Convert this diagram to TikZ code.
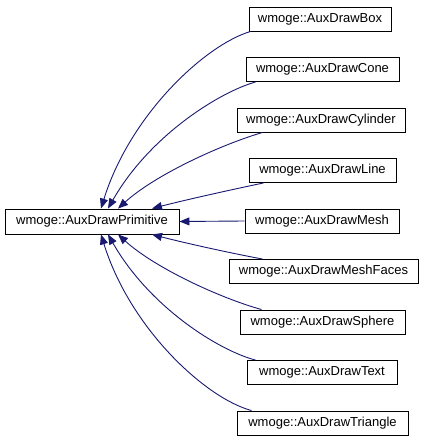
\documentclass[tikz,border=0pt]{standalone}
\usepackage{fontspec}
\setmainfont{Liberation Sans}
\usetikzlibrary{arrows.meta}
\definecolor{edgeblue}{RGB}{25,25,112}
\tikzset{
  cls/.style={draw=black, line width=0.9pt, fill=white, inner sep=0pt,
    minimum height=24pt, font=\fontsize{13}{15}\selectfont, anchor=center},
  inh/.style={draw=edgeblue, line width=0.9pt,
    arrows={Triangle[length=10pt,width=8pt]-}},
}
\begin{document}
\begin{tikzpicture}[x=1pt,y=-1pt]
\useasboundingbox (0,0) rectangle (423,443);
\node[cls, minimum width=174pt, minimum height=25pt] (main) at (92,221.5) {wmoge::AuxDrawPrimitive};
\node[cls, minimum width=142pt] (b1) at (320,19) {wmoge::AuxDrawBox};
\node[cls, minimum width=153pt] (b2) at (322.5,69.5) {wmoge::AuxDrawCone};
\node[cls, minimum width=168pt] (b3) at (321,120) {wmoge::AuxDrawCylinder};
\node[cls, minimum width=147pt] (b4) at (322.5,170.5) {wmoge::AuxDrawLine};
\node[cls, minimum width=154pt] (b5) at (322,221) {wmoge::AuxDrawMesh};
\node[cls, minimum width=189pt] (b6) at (323.5,271.5) {wmoge::AuxDrawMeshFaces};
\node[cls, minimum width=165pt] (b7) at (322.5,322) {wmoge::AuxDrawSphere};
\node[cls, minimum width=150pt] (b8) at (322,372.5) {wmoge::AuxDrawText};
\node[cls, minimum width=171pt] (b9) at (322.5,423) {wmoge::AuxDrawTriangle};

\draw[inh] ([xshift=9pt]main.north) .. controls (130,115) and (205,45) .. ([xshift=2pt]b1.south west);
\draw[inh] ([xshift=16pt]main.north) .. controls (150,135) and (220,92) .. ([xshift=10pt]b2.south west);
\draw[inh] ([xshift=26pt]main.north) .. controls (155,175) and (220,145) .. ([xshift=26pt]b3.south west);
\draw[inh] ([xshift=60pt]main.north) .. controls (185,200) and (230,190) .. ([xshift=15pt]b4.south west);
\draw[inh] (main.east) -- (b5.west);
\draw[inh] ([xshift=60pt]main.south) .. controls (185,243) and (230,253) .. ([xshift=34pt]b6.north west);
\draw[inh] ([xshift=26pt]main.south) .. controls (155,268) and (220,298) .. ([xshift=22pt]b7.north west);
\draw[inh] ([xshift=16pt]main.south) .. controls (150,308) and (220,351) .. ([xshift=9pt]b8.north west);
\draw[inh] ([xshift=9pt]main.south) .. controls (130,328) and (205,398) .. ([xshift=15pt]b9.north west);
\end{tikzpicture}
\end{document}
